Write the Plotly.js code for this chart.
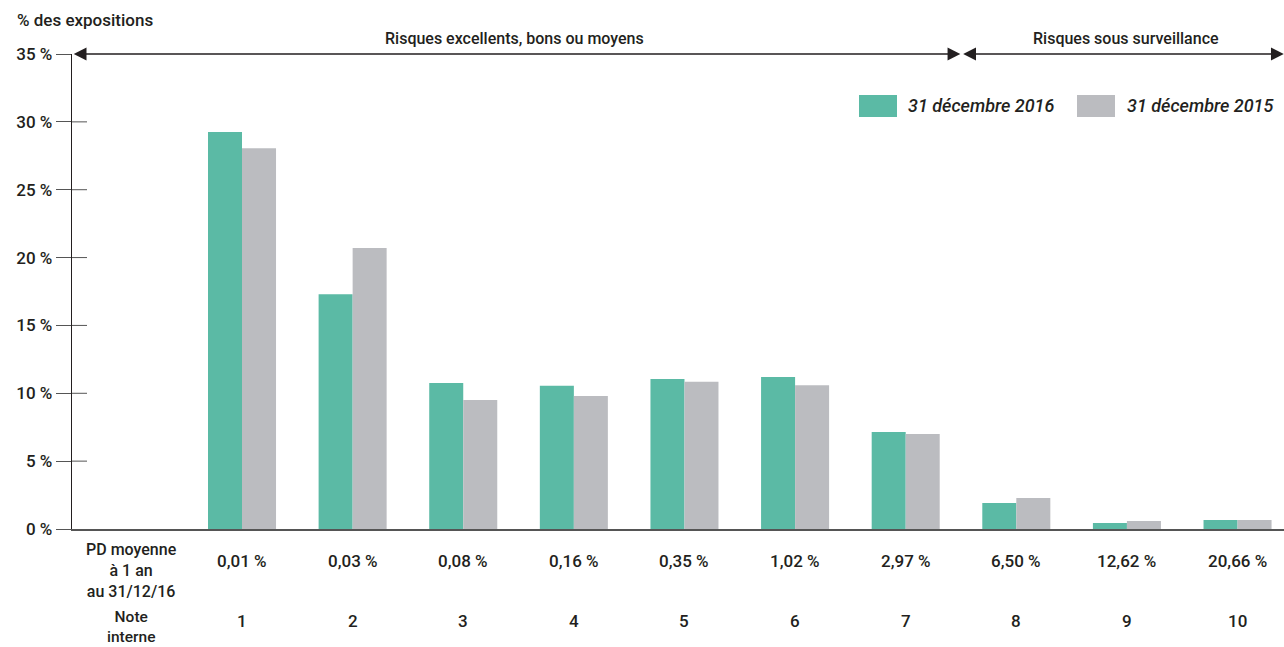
<!DOCTYPE html>
<html>
<head>
<meta charset="utf-8">
<script src="https://cdn.plot.ly/plotly-3.0.1.min.js"></script>
<style>html,body{margin:0;padding:0;background:#fff;}#chart{width:1284px;height:647px;}</style>
</head>
<body>
<div id="chart"></div>
<script>
// ---- data ----
const notes = ["1","2","3","4","5","6","7","8","9","10"];
const pdLabels = ["0,01 %","0,03 %","0,08 %","0,16 %","0,35 %","1,02 %","2,97 %","6,50 %","12,62 %","20,66 %"];
const series2016 = [29.25, 17.3, 10.75, 10.55, 11.05, 11.2, 7.15, 1.92, 0.44, 0.66];
const series2015 = [28.05, 20.7, 9.5, 9.8, 10.85, 10.6, 7.0, 2.28, 0.59, 0.66];
const seriesNames = ["31 décembre 2016", "31 décembre 2015"];
const seriesColors = ["#5bbaa5", "#bbbcc0"];
const yTicks = [0, 5, 10, 15, 20, 25, 30, 35];
const pdRowTitle = "PD moyenne<br>à 1 an<br>au 31/12/16";
const noteRowTitle = "Note<br>interne";
const yTitle = "% des expositions";
const zoneLabels = ["Risques excellents, bons ou moyens", "Risques sous surveillance"];

// ---- layout geometry ----
const W = 1284, H = 647;
const mL = 72, mR = 0, mT = 54, mB = 118;
const plotW = W - mL - mR, plotH = H - mT - mB;
const xMin = -0.537, xMax = 10.42;
const xs = notes.map((n, i) => i + 1);
const px2paperY = py => (H - mB - py) / plotH;
const px2paperX = px => (px - mL) / plotW;

const font = "Roboto, 'Noto Sans', sans-serif";
const textColor = "#231f20";
const f = (size) => ({family: font, size: size, color: textColor, weight: 500});

const traces = [series2016, series2015].map((vals, k) => ({
  type: "bar",
  x: xs,
  y: vals,
  name: seriesNames[k],
  marker: {color: seriesColors[k], line: {width: 0}},
  showlegend: false,
  hoverinfo: "y"
}));

const annotations = [];
// y title
annotations.push({xref: "paper", yref: "paper", x: px2paperX(15), y: px2paperY(20), xanchor: "left", yanchor: "middle",
  text: yTitle, showarrow: false, font: f(17)});
// PD row & note row titles
annotations.push({xref: "x", yref: "paper", x: 0, y: px2paperY(570), xanchor: "center", yanchor: "middle",
  text: pdRowTitle, showarrow: false, font: f(16)});
annotations.push({xref: "x", yref: "paper", x: 0, y: px2paperY(627), xanchor: "center", yanchor: "middle",
  text: noteRowTitle, showarrow: false, font: f(15.5)});
xs.forEach((x, i) => {
  annotations.push({xref: "x", yref: "paper", x: x, y: px2paperY(561), xanchor: "center", yanchor: "middle",
    text: pdLabels[i], showarrow: false, font: f(17)});
  annotations.push({xref: "x", yref: "paper", x: x, y: px2paperY(621), xanchor: "center", yanchor: "middle",
    text: notes[i], showarrow: false, font: f(17)});
});
// zone labels
annotations.push({xref: "paper", yref: "paper", x: px2paperX(514), y: px2paperY(38), xanchor: "center", yanchor: "middle",
  text: zoneLabels[0], showarrow: false, font: f(16)});
annotations.push({xref: "paper", yref: "paper", x: px2paperX(1126), y: px2paperY(38), xanchor: "center", yanchor: "middle",
  text: zoneLabels[1], showarrow: false, font: f(16)});
// double arrows
const split = 7.5;
[[xMin + 0.002, split - 0.006], [split + 0.006, xMax - 0.002]].forEach(([a, b]) => {
  annotations.push({xref: "x", yref: "y", axref: "x", ayref: "y", x: b, y: 35, ax: a, ay: 35,
    showarrow: true, arrowhead: 2, arrowside: "end+start", arrowsize: 1.6, arrowwidth: 1.6,
    arrowcolor: "#231f20", standoff: 0, startstandoff: 0, text: ""});
});
// legend (custom, large swatches)
const legendPos = [{sx: 859, tx: 906}, {sx: 1077, tx: 1125}];
const shapes = [];
seriesNames.forEach((nm, k) => {
  shapes.push({type: "rect", xref: "paper", yref: "paper",
    x0: px2paperX(legendPos[k].sx), x1: px2paperX(legendPos[k].sx + 38),
    y0: px2paperY(117), y1: px2paperY(95), fillcolor: seriesColors[k], line: {width: 0}});
  annotations.push({xref: "paper", yref: "paper", x: px2paperX(legendPos[k].tx), y: px2paperY(106),
    xanchor: "left", yanchor: "middle", text: "<i>" + nm + "</i>", showarrow: false,
    font: f(18)});
});
// inner halves of y ticks
yTicks.filter(t => t > 0 && t < 35).forEach(t => {
  shapes.push({type: "line", xref: "paper", yref: "y", x0: 0, x1: 15 / plotW, y0: t, y1: t,
    line: {color: "#555", width: 1}});
});

const layout = {
  width: W, height: H,
  margin: {l: mL, r: mR, t: mT, b: mB, pad: 0},
  paper_bgcolor: "#fff", plot_bgcolor: "#fff",
  barmode: "group", bargap: 0.385, bargroupgap: 0,
  showlegend: false,
  xaxis: {range: [xMin, xMax], showgrid: false, zeroline: false, showticklabels: false, ticks: "",
    showline: true, linecolor: "#555", linewidth: 2, fixedrange: true},
  yaxis: {range: [0, 35], tickvals: yTicks, ticktext: yTicks.map(t => t + " %"), showgrid: false, zeroline: false,
    ticks: "outside", ticklen: 15, tickcolor: "#555", tickwidth: 1,
    showline: true, linecolor: "#231f20", linewidth: 1.3,
    tickfont: f(17), fixedrange: true},
  annotations: annotations,
  shapes: shapes
};

Plotly.newPlot("chart", traces, layout, {displayModeBar: false, staticPlot: true});
</script>
</body>
</html>
